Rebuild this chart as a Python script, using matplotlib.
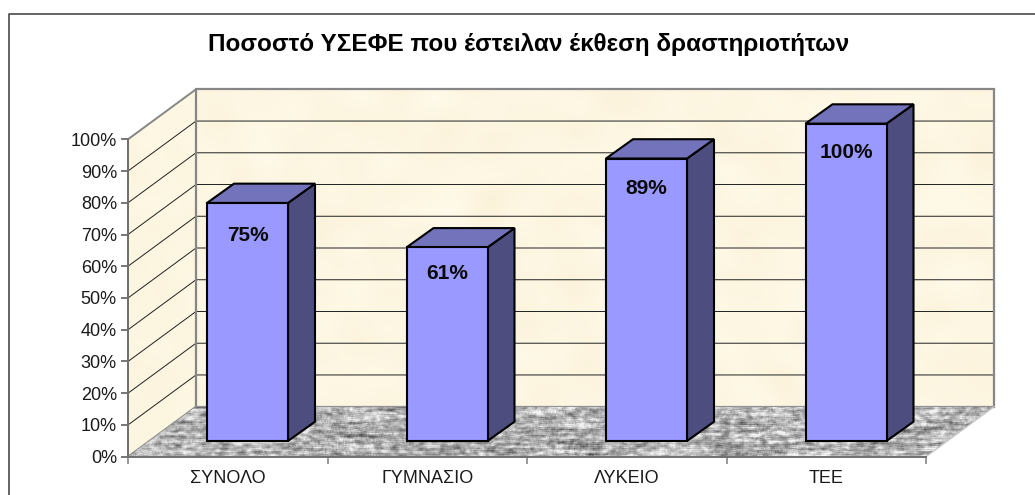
import numpy as np
import matplotlib
matplotlib.use("Agg")
import matplotlib.pyplot as plt
from matplotlib.patches import Polygon

plt.rcParams['font.family'] = ['Liberation Sans', 'DejaVu Sans']

title = "Ποσοστό ΥΣΕΦΕ που έστειλαν έκθεση δραστηριοτήτων"
categories = ["ΣΥΝΟΛΟ", "ΓΥΜΝΑΣΙΟ", "ΛΥΚΕΙΟ", "ΤΕΕ"]
values = [75, 61, 89, 100]
y_ticks = list(range(0, 101, 10))

W, H = 1035, 495
fig = plt.figure(figsize=(W/100, H/100), dpi=100, facecolor='white')

# Frame of the chart area: left and top only, it runs off the picture
fig.add_artist(plt.Line2D([8.8/W, 8.8/W, 1], [0, 1-13.5/H, 1-13.5/H],
                          color='#3a3a3a', lw=1.1))

# Front plane of the 3-D box
L, R, B, T = 128, 926, 456.7, 139.3
ax = fig.add_axes([L/W, 1-B/H, (R-L)/W, (B-T)/H])
ax.patch.set_alpha(0)

PX, PY = 199.5, 3.174          # pixels per category, pixels per percent
DX, DY = 68/PX, 50/PY          # depth of the box
bar_w = 81/PX
bar_dx, bar_dy = 27/PX, 19.3/PY
bar_y0 = 15.7/PY
bar_x0 = 79/PX
label_drop = [32.5, 26, 29.5, 28.7]   # label centre below the bar top, pixels

edge = '#868686'

def add(pts, z, **kw):
    p = Polygon(pts, closed=True, clip_on=False, zorder=z, **kw)
    ax.add_patch(p)
    return p

# Procedural noise for the surface textures (decoration only)
def noise(ny, nx):
    yy, xx = np.mgrid[0:ny, 0:nx]
    return (np.sin(xx*12.9898 + yy*78.233)*43758.5453) % 1

def blur(a, kx, ky):
    for k, axis in ((kx, 1), (ky, 0)):
        a = sum(np.roll(a, s, axis=axis) for s in range(-k, k+1))/(2*k+1)
    return a

def norm(a):
    return (a-a.mean())/a.std()

def textured(poly, tex, extent, z):
    im = ax.imshow(tex, extent=extent, aspect='auto', zorder=z,
                   interpolation='bilinear', vmin=0, vmax=1)
    im.set_clip_path(poly)
    im.set_clip_box(fig.bbox)
    return im

# Walls
side = add([(0, 0), (DX, DY), (DX, 100+DY), (0, 100)], 1, fc='#FDF6DF', ec='none')
back = add([(DX, DY), (4+DX, DY), (4+DX, 100+DY), (DX, 100+DY)], 1, fc='#FCF5DF', ec='none')
n = noise(320, 870)
soft = norm(blur(blur(n, 14, 10), 14, 10))
rgb = np.dstack([np.clip(c + a*soft, 0, 1) for c, a in
                 ((0.992, 0.002), (0.965, 0.004), (0.885, 0.008))])
textured(back, rgb, (0, 4+DX, 0, 100+DY), 1.1)
textured(side, rgb, (0, 4+DX, 0, 100+DY), 1.1)
add([(0, 0), (DX, DY), (DX, 100+DY), (0, 100)], 1.8, fill=False, ec=edge, lw=1.4)
add([(DX, DY), (4+DX, DY), (4+DX, 100+DY), (DX, 100+DY)], 1.8, fill=False, ec=edge, lw=1.6)

# Floor with a grey stone texture
n2 = noise(50, 870)
t = 0.6*norm(blur(n2, 6, 1)) + 0.4*norm(blur(np.roll(n2, 17, axis=1), 2, 1))
t = np.clip(0.70 + 0.11*norm(t), 0.3, 0.95)
floor = add([(0, 0), (4, 0), (4+DX, DY), (DX, DY)], 1.85, fc='#B0B0B0', ec='none')
im = textured(floor, t, (0, 4+DX, 0, DY), 1.9)
im.set_cmap('gray')
ax.plot([4, 4+DX], [0, DY], color='#C8C8C8', lw=1, clip_on=False, zorder=1.95)

# Gridlines: side wall and back wall
for v in y_ticks[1:-1]:
    ax.plot([0, DX, 4+DX], [v, v+DY, v+DY], color='#202020', lw=0.7,
            clip_on=False, zorder=1.7)

# Bars: they stand on the floor, so they rise from their own base
for i, (cat, v) in enumerate(zip(categories, values)):
    x0 = i + bar_x0
    x1 = x0 + bar_w
    y0 = bar_y0
    y1 = bar_y0 + v
    kw = dict(ec='black', lw=1.5, joinstyle='miter')
    add([(x1, y0), (x1+bar_dx, y0+bar_dy), (x1+bar_dx, y1+bar_dy), (x1, y1)], 3, fc='#4D4D80', **kw)
    add([(x0, y1), (x1, y1), (x1+bar_dx, y1+bar_dy), (x0+bar_dx, y1+bar_dy)], 3, fc='#7373BB', **kw)
    add([(x0, y0), (x1, y0), (x1, y1), (x0, y1)], 4, fc='#9999FF', **kw)
    ax.text((x0+x1)/2, y1 - label_drop[i]/PY, f"{v}%", ha='center', va='center', fontsize=15,
            fontweight='bold', color='#0a0a0a', zorder=5)

# Axes
ax.set_xlim(0, 4)
ax.set_ylim(0, 100)
ax.set_xticks(range(5))
ax.set_xticklabels([''] * 5)
ax.set_xticks(np.arange(4)+0.5, minor=True)
ax.set_xticklabels(categories, minor=True, fontsize=13, color='#1a1a1a')
ax.tick_params(axis='x', which='major', length=5, color=edge, width=1.2, direction='out')
ax.tick_params(axis='x', which='minor', length=0, pad=9.3)
ax.set_yticks(y_ticks)
ax.set_yticklabels([f"{v}%" for v in y_ticks], fontsize=13, color='#1a1a1a')
ax.tick_params(axis='y', length=5, color='#606060', width=1.2, pad=3)
for s in ('top', 'right'):
    ax.spines[s].set_visible(False)
for s in ('left', 'bottom'):
    ax.spines[s].set_color('#707070')
    ax.spines[s].set_linewidth(1.4)
    ax.spines[s].set_zorder(2)

fig.text(528.5/W, 1-44/H, title, ha='center', va='center', fontsize=17.5,
         fontweight='bold', color='black')

fig.savefig('out.png', dpi=100, facecolor='white')
